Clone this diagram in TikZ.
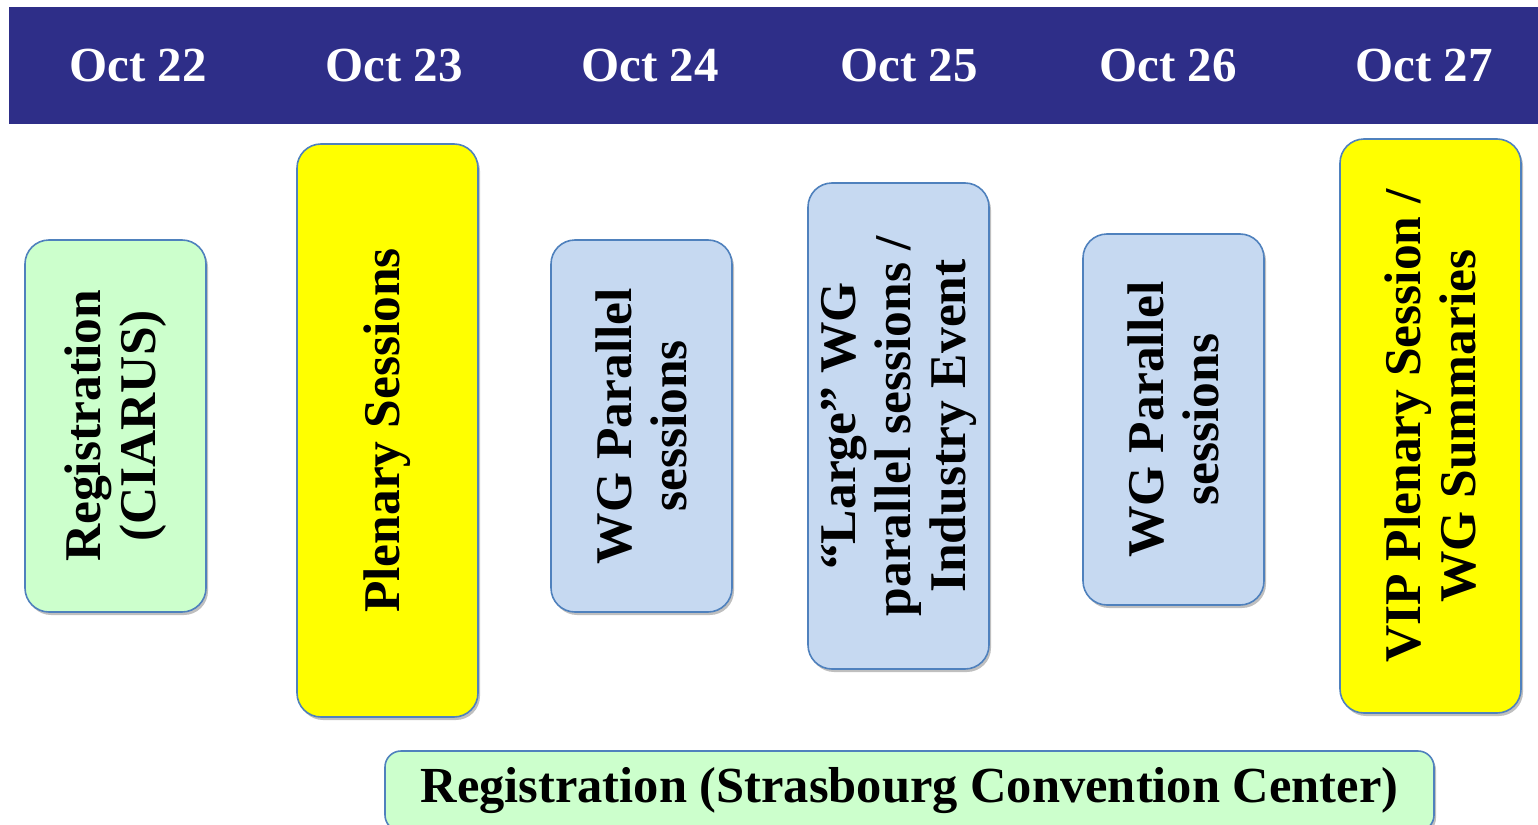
\documentclass[tikz,border=0pt]{standalone}
\usepackage{fontspec}
\setmainfont{Liberation Serif}
\usetikzlibrary{shadows}
\definecolor{navy}{RGB}{46,46,136}
\definecolor{boxgreen}{RGB}{204,255,204}
\definecolor{boxyellow}{RGB}{255,255,0}
\definecolor{boxblue}{RGB}{198,217,241}
\definecolor{edgeblue}{RGB}{79,129,189}
\tikzset{
  daylabel/.style={text=white, font=\fontsize{49}{50}\selectfont\bfseries, anchor=center},
  dayblock/.style={draw=edgeblue, line width=1.6pt, rounded corners=24pt, rotate=90,
    align=center, inner sep=0pt, font=\fontsize{51.5}{55}\selectfont\bfseries,
    drop shadow={shadow xshift=2pt, shadow yshift=-3pt, opacity=0.25, fill=black}},
  regbar/.style={draw=edgeblue, line width=1.6pt, rounded corners=16pt, fill=boxgreen,
    inner sep=0pt, font=\fontsize{50.5}{52}\selectfont\bfseries,
    drop shadow={shadow xshift=2pt, shadow yshift=-3pt, opacity=0.25, fill=black}},
}
\begin{document}
\begin{tikzpicture}[x=1pt,y=-1pt]
\useasboundingbox (0,0) rectangle (1538,824);
% header band
\fill[navy] (9,7) rectangle (1538,124);
\node[daylabel] (d22) at (138,66) {Oct 22};
\node[daylabel] (d23) at (394,66) {Oct 23};
\node[daylabel] (d24) at (650,66) {Oct 24};
\node[daylabel] (d25) at (909,66) {Oct 25};
\node[daylabel] (d26) at (1168,66) {Oct 26};
\node[daylabel] (d27) at (1424,66) {Oct 27};
% day blocks (rotated: minimum width = vertical extent)
\node[dayblock, fill=boxgreen, minimum width=372pt, minimum height=181pt] (b22) at (115.5,426)
  {Registration\\(CIARUS)};
\node[dayblock, fill=boxyellow, minimum width=573pt, minimum height=181pt] (b23) at (387.5,430.5)
  {Plenary Sessions};
\node[dayblock, fill=boxblue, minimum width=372pt, minimum height=181pt] (b24) at (641.5,426)
  {WG Parallel\\sessions};
\node[dayblock, fill=boxblue, minimum width=486pt, minimum height=181pt] (b25) at (898.5,426)
  {“Large” WG\\parallel sessions /\\Industry Event};
\node[dayblock, fill=boxblue, minimum width=371pt, minimum height=181pt] (b26) at (1173.5,419.5)
  {WG Parallel\\sessions};
\node[dayblock, fill=boxyellow, minimum width=574pt, minimum height=181pt] (b27) at (1430.5,426)
  {VIP Plenary Session /\\WG Summaries};
% bottom registration bar
\node[regbar, minimum width=1049pt, minimum height=80pt] (reg) at (909.5,791)
  {Registration (Strasbourg Convention Center)};
\end{tikzpicture}
\end{document}
